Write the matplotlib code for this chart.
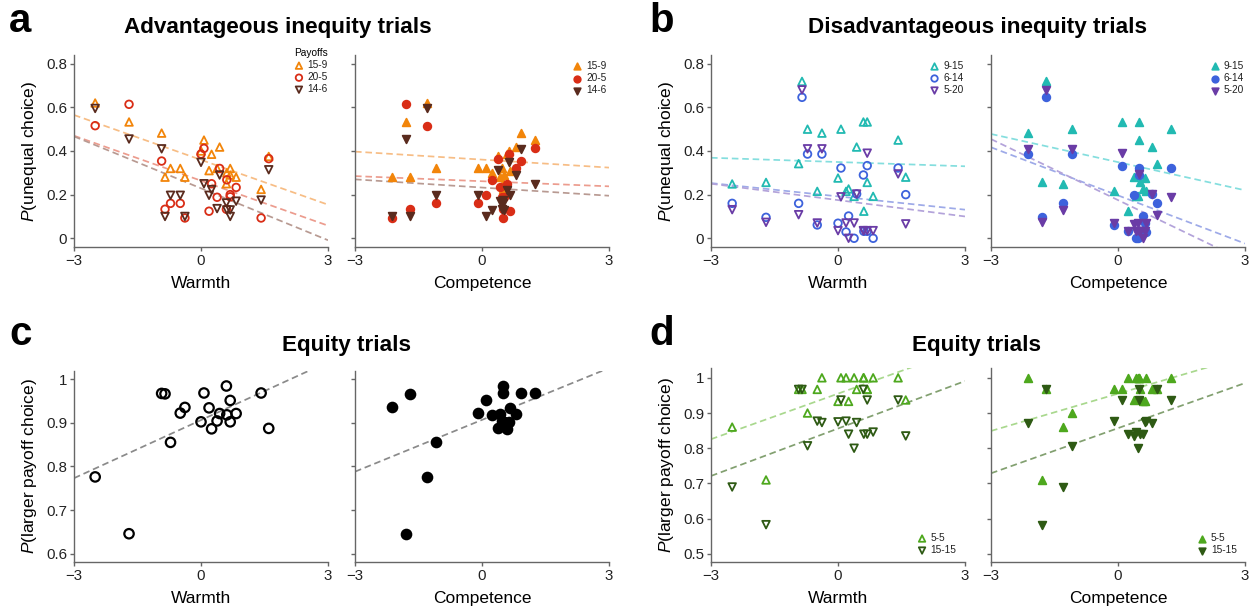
import matplotlib
matplotlib.use('Agg')
import matplotlib.pyplot as plt
import numpy as np

plt.rcParams['font.family'] = ['Liberation Sans', 'DejaVu Sans']
plt.rcParams['mathtext.fontset'] = 'custom'
plt.rcParams['mathtext.rm'] = 'Liberation Sans'
plt.rcParams['mathtext.it'] = 'Liberation Sans:italic'

# trait scores of the 20 targets
warmth = [-2.50, -1.70, -0.93, -0.85, -0.72, -0.49, -0.38, 0.00, 0.07, 0.19,
          0.25, 0.38, 0.44, 0.60, 0.61, 0.69, 0.69, 0.83, 1.42, 1.60]
competence = [-1.31, -1.79, 0.91, -1.69, -1.09, -0.10, -2.12, 0.64, 1.25, 0.67,
              0.58, 0.47, 0.80, 0.50, 0.23, 0.09, 0.52, 0.42, 0.50, 0.37]

# P(unequal choice), advantageous inequity payoffs
p_15_9 = [0.62, 0.533, 0.482, 0.28, 0.32, 0.32, 0.28, 0.40, 0.45, 0.31,
          0.385, 0.32, 0.418, 0.25, 0.30, 0.32, 0.29, 0.28, 0.224, 0.375]
p_20_5 = [0.516, 0.614, 0.354, 0.133, 0.16, 0.16, 0.093, 0.386, 0.412, 0.124,
          0.25, 0.188, 0.32, 0.133, 0.268, 0.20, 0.19, 0.233, 0.093, 0.365]
p_14_6 = [0.595, 0.455, 0.41, 0.10, 0.197, 0.197, 0.10, 0.348, 0.25, 0.197,
          0.223, 0.136, 0.29, 0.162, 0.13, 0.10, 0.13, 0.17, 0.175, 0.314]

# P(unequal choice), disadvantageous inequity payoffs
p_9_15 = [0.249, 0.256, 0.342, 0.719, 0.50, 0.215, 0.482, 0.276, 0.50, 0.215,
          0.226, 0.192, 0.418, 0.533, 0.124, 0.533, 0.256, 0.192, 0.45, 0.28]
p_6_14 = [0.16, 0.096, 0.16, 0.646, 0.386, 0.061, 0.386, 0.069, 0.322, 0.029,
          0.102, 0.0, 0.203, 0.29, 0.032, 0.333, 0.032, 0.0, 0.322, 0.20]
p_5_20 = [0.131, 0.073, 0.108, 0.68, 0.41, 0.07, 0.41, 0.035, 0.19, 0.07,
          0.0, 0.07, 0.203, 0.035, 0.035, 0.39, 0.035, 0.035, 0.295, 0.066]

# P(larger payoff choice), equity trials
p_equity = [0.776, 0.646, 0.967, 0.966, 0.855, 0.922, 0.935, 0.902, 0.968, 0.934,
            0.886, 0.904, 0.921, 0.984, 0.918, 0.951, 0.902, 0.921, 0.968, 0.887]
p_5_5 = [0.86, 0.71, 0.967, 0.967, 0.90, 0.967, 1.0, 0.933, 1.0, 1.0,
         0.933, 1.0, 0.967, 1.0, 1.0, 0.967, 0.967, 1.0, 1.0, 0.937]
p_15_15 = [0.69, 0.583, 0.967, 0.967, 0.807, 0.877, 0.873, 0.875, 0.937, 0.877,
           0.84, 0.80, 0.873, 0.967, 0.84, 0.937, 0.84, 0.846, 0.937, 0.835]

# regression lines: (intercept at 0, slope)
fit_adv_w = [(0.3595, -0.0685), (0.264, -0.0687), (0.229, -0.0793)]
fit_adv_c = [(0.3605, -0.0122), (0.2615, -0.0078), (0.2325, -0.0125)]
fit_dis_w = [(0.3495, -0.0065), (0.192, -0.0203), (0.175, -0.025)]
fit_dis_c = [(0.349, -0.043), (0.1965, -0.0735), (0.175, -0.0932)]
fit_eq_w = [(0.906, 0.0443)]
fit_eq_c = [(0.9065, 0.0395)]
fit_eq2_w = [(0.955, 0.0431), (0.856, 0.0449)]
fit_eq2_c = [(0.955, 0.0353), (0.857, 0.0427)]

adv_labels = ['15-9', '20-5', '14-6']
dis_labels = ['9-15', '6-14', '5-20']
eq_labels = ['5-5', '15-15']

adv_colors = ['#f2850a', '#d92d16', '#5a2b1e']
adv_lines = ['#f7bd85', '#ec9c8e', '#b89a92']
dis_colors = ['#22bab2', '#3d62dc', '#6a3ca6']
dis_lines = ['#84dede', '#9eaae8', '#b3a3da']
eq_colors = ['#4ea81e', '#2e5a14']
eq_lines = ['#a9d88e', '#82a070']

AX_COL = '#666666'
W, H = 1252, 610
fig = plt.figure(figsize=(W / 100, H / 100), dpi=100)


def make_ax(x0, ytop, ybot, width=254):
    return fig.add_axes([x0 / W, 1 - ybot / H, width / W, (ybot - ytop) / H])


def style(ax, ylim, yticks, yticklabels, xlabel, ylabel=None):
    ax.set_xlim(-3, 3)
    ax.set_ylim(*ylim)
    ax.set_xticks([-3, 0, 3])
    ax.set_xticklabels(['\u22123', '0', '3'])
    ax.set_yticks(yticks)
    if ylabel:
        ax.set_yticklabels(yticklabels)
        ax.set_ylabel(ylabel, fontsize=12.5, labelpad=5)
    else:
        ax.set_yticklabels([])
    ax.set_xlabel(xlabel, fontsize=12.5, labelpad=6)
    for s in ['top', 'right']:
        ax.spines[s].set_visible(False)
    for s in ['left', 'bottom']:
        ax.spines[s].set_color(AX_COL)
        ax.spines[s].set_linewidth(1.0)
    ax.tick_params(direction='out', length=3, width=1, color=AX_COL,
                   labelsize=10.8, pad=2, labelcolor='#222222')
    ax.patch.set_alpha(0)


def draw(ax, x, series, colors, lcolors, markers, labels, fits, filled, s=30, lw=1.3):
    xs = np.array([-3.0, 3.0])
    for (b0, b1), lc in zip(fits, lcolors):
        ax.plot(xs, b0 + b1 * xs, ls=(0, (3.8, 2.2)), color=lc, lw=1.25, zorder=1)
    for y, c, m, lab in zip(series, colors, markers, labels):
        ax.scatter(x, y, s=s, marker=m, facecolors=c if filled else 'none',
                   edgecolors=c, linewidths=lw, zorder=3, label=lab, clip_on=False)


def legend(ax, anchor, loc='upper left', title=None):
    leg = ax.legend(loc=loc, bbox_to_anchor=anchor, frameon=False, fontsize=7.3,
                    title=title, title_fontsize=7.3, handlelength=0.8,
                    handletextpad=0.45, labelspacing=0.2, borderpad=0,
                    borderaxespad=0, scatterpoints=1, markerscale=0.85)
    for t in leg.get_texts():
        t.set_color('#222222')
    return leg


top_ylim = (-0.04, 0.84)
top_ticks = [0, 0.2, 0.4, 0.6, 0.8]
top_tl = ['0', '0.2', '0.4', '0.6', '0.8']
adv = [p_15_9, p_20_5, p_14_6]
dis = [p_9_15, p_6_14, p_5_20]
mk3 = ['^', 'o', 'v']

# a: advantageous inequity
ax = make_ax(74, 55, 247)
draw(ax, warmth, adv, adv_colors, adv_lines, mk3, adv_labels, fit_adv_w, False)
style(ax, top_ylim, top_ticks, top_tl, 'Warmth', '$P$(unequal choice)')
legend(ax, (0.868, 1.035), title='Payoffs')

ax = make_ax(355, 55, 247)
draw(ax, competence, adv, adv_colors, adv_lines, mk3, adv_labels, fit_adv_c, True)
style(ax, top_ylim, top_ticks, top_tl, 'Competence')
legend(ax, (0.86, 0.968))

# b: disadvantageous inequity
ax = make_ax(711, 55, 247)
draw(ax, warmth, dis, dis_colors, dis_lines, mk3, dis_labels, fit_dis_w, False)
style(ax, top_ylim, top_ticks, top_tl, 'Warmth', '$P$(unequal choice)')
legend(ax, (0.864, 0.968))

ax = make_ax(991, 55, 247)
draw(ax, competence, dis, dis_colors, dis_lines, mk3, dis_labels, fit_dis_c, True)
style(ax, top_ylim, top_ticks, top_tl, 'Competence')
legend(ax, (0.867, 0.968))

# c: equity trials, both payoffs pooled
c_ylim = (0.582, 1.019)
c_ticks = [0.6, 0.7, 0.8, 0.9, 1.0]
c_tl = ['0.6', '0.7', '0.8', '0.9', '1']
ax = make_ax(74, 370.7, 561.7)
draw(ax, warmth, [p_equity], ['black'], ['#8a8a8a'], ['o'], ['all'], fit_eq_w,
     False, s=46, lw=1.6)
style(ax, c_ylim, c_ticks, c_tl, 'Warmth', '$P$(larger payoff choice)')

ax = make_ax(355, 370.7, 561.7)
draw(ax, competence, [p_equity], ['black'], ['#8a8a8a'], ['o'], ['all'], fit_eq_c,
     True, s=46, lw=1.6)
style(ax, c_ylim, c_ticks, c_tl, 'Competence')

# d: equity trials by payoff
d_ylim = (0.477, 1.027)
d_ticks = [0.5, 0.6, 0.7, 0.8, 0.9, 1.0]
d_tl = ['0.5', '0.6', '0.7', '0.8', '0.9', '1']
eq = [p_5_5, p_15_15]
ax = make_ax(711, 368.3, 562)
draw(ax, warmth, eq, eq_colors, eq_lines, ['^', 'v'], eq_labels, fit_eq2_w, False)
style(ax, d_ylim, d_ticks, d_tl, 'Warmth', '$P$(larger payoff choice)')
legend(ax, (0.815, 0.035), loc='lower left')

ax = make_ax(991, 368.3, 562)
draw(ax, competence, eq, eq_colors, eq_lines, ['^', 'v'], eq_labels, fit_eq2_c, True)
style(ax, d_ylim, d_ticks, d_tl, 'Competence')
legend(ax, (0.816, 0.035), loc='lower left')

# titles and panel letters
titles = [(278, 33, 'Advantageous inequity trials'),
          (978, 33, 'Disadvantageous inequity trials'),
          (346, 351, 'Equity trials'),
          (977, 351, 'Equity trials')]
for x, y, t in titles:
    fig.text(x / W, 1 - y / H, t, fontsize=16.2, fontweight='bold',
             ha='center', va='baseline')
letters = [(9, 32, 'a'), (649, 32, 'b'), (9, 345, 'c'), (649, 345, 'd')]
for x, y, t in letters:
    fig.text(x / W, 1 - y / H, t, fontsize=29, fontweight='bold',
             ha='left', va='baseline')

fig.savefig('out.png', dpi=100)
